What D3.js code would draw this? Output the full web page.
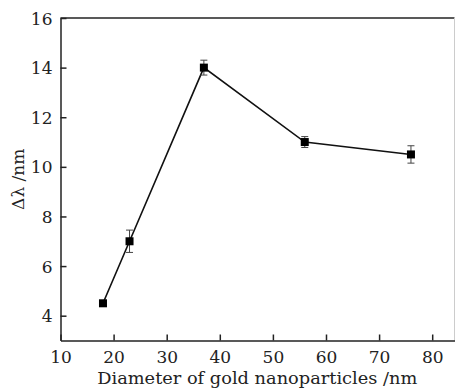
<!DOCTYPE html>
<html>
<head>
<meta charset="utf-8">
<script src="https://cdn.jsdelivr.net/npm/d3@7"></script>
<style>
  html, body { margin: 0; padding: 0; background: #fff; }
  svg { display: block; }
</style>
</head>
<body>
<svg id="chart" width="456" height="389"></svg>
<script>
// Particle diameter (nm) vs. resonance shift Δλ (nm)
const diameters = [18, 23, 37, 56, 76];
const shifts    = [4.5, 7.0, 14.0, 11.0, 10.5];
const errors    = [0.1, 0.45, 0.3, 0.22, 0.35];
const xTicks = [10, 20, 30, 40, 50, 60, 70, 80];
const yTicks = [4, 6, 8, 10, 12, 14, 16];
const xTitle = "Diameter of gold nanoparticles /nm";
const yTitle = "Δλ /nm";

const svg = d3.select("#chart");
const W = 456, H = 389;
const m = { left: 60.5, right: 1.5, top: 18, bottom: 48.5 };
const font = "'DejaVu Serif', 'Liberation Serif', serif";

const x = d3.scaleLinear().domain([10, 84.2]).range([m.left, W - m.right]);
const y = d3.scaleLinear().domain([3, 16]).range([H - m.bottom, m.top]);

// frame: top and right edges
svg.append("line")
  .attr("x1", x.range()[0]).attr("x2", x.range()[1])
  .attr("y1", y(16)).attr("y2", y(16))
  .attr("stroke", "#222").attr("stroke-width", 1.5);
svg.append("line")
  .attr("x1", x.range()[1]).attr("x2", x.range()[1])
  .attr("y1", y(16)).attr("y2", y(3))
  .attr("stroke", "#ccc").attr("stroke-width", 1);

// bottom axis, ticks pointing inward
const xAxis = svg.append("g")
  .attr("transform", `translate(0,${y(3)})`)
  .call(d3.axisTop(x).tickValues(xTicks).tickSize(6).tickSizeOuter(0).tickFormat(d3.format("d")));
xAxis.select(".domain").attr("stroke", "#222").attr("stroke-width", 1.5);
xAxis.selectAll(".tick line").attr("stroke", "#222").attr("stroke-width", 1.5);
xAxis.selectAll(".tick text")
  .attr("y", 22).attr("dy", 0)
  .attr("font-family", font).attr("font-size", 17).attr("fill", "#222");

// left axis, ticks pointing inward
const yAxis = svg.append("g")
  .attr("transform", `translate(${x(10)},0)`)
  .call(d3.axisRight(y).tickValues(yTicks).tickSize(6).tickSizeOuter(0).tickFormat(d3.format("d")));
yAxis.select(".domain").attr("stroke", "#222").attr("stroke-width", 1.5);
yAxis.selectAll(".tick line").attr("stroke", "#222").attr("stroke-width", 1.5);
yAxis.selectAll(".tick text")
  .attr("x", -8).attr("dy", "0.36em").attr("text-anchor", "end")
  .attr("font-family", font).attr("font-size", 17).attr("fill", "#222");

// axis titles
svg.append("text")
  .attr("x", (x.range()[0] + 420) / 2 + 17).attr("y", 384)
  .attr("text-anchor", "middle")
  .attr("font-family", font).attr("font-size", 17).attr("fill", "#222")
  .attr("textLength", 320).attr("lengthAdjust", "spacingAndGlyphs")
  .text(xTitle);
svg.append("text")
  .attr("transform", `translate(24,${(y(3) + y(16)) / 2}) rotate(-90)`)
  .attr("text-anchor", "middle")
  .attr("font-family", font).attr("font-size", 17).attr("fill", "#222")
  .text(yTitle);

const pts = diameters.map((d, i) => ({ x: d, y: shifts[i], e: errors[i] }));

// connecting line
svg.append("path")
  .datum(pts)
  .attr("fill", "none").attr("stroke", "#111").attr("stroke-width", 1.6)
  .attr("d", d3.line().x(d => x(d.x)).y(d => y(d.y)));

// error bars
const eb = svg.append("g").attr("stroke", "#444").attr("stroke-width", 1);
pts.forEach(p => {
  const cx = x(p.x), y0 = y(p.y - p.e), y1 = y(p.y + p.e);
  eb.append("line").attr("x1", cx).attr("x2", cx).attr("y1", y0).attr("y2", y1);
  eb.append("line").attr("x1", cx - 3.5).attr("x2", cx + 3.5).attr("y1", y0).attr("y2", y0);
  eb.append("line").attr("x1", cx - 3.5).attr("x2", cx + 3.5).attr("y1", y1).attr("y2", y1);
});

// square markers
svg.append("g").selectAll("rect")
  .data(pts).join("rect")
  .attr("x", d => x(d.x) - 4).attr("y", d => y(d.y) - 4)
  .attr("width", 8).attr("height", 8)
  .attr("fill", "#000");
</script>
</body>
</html>
